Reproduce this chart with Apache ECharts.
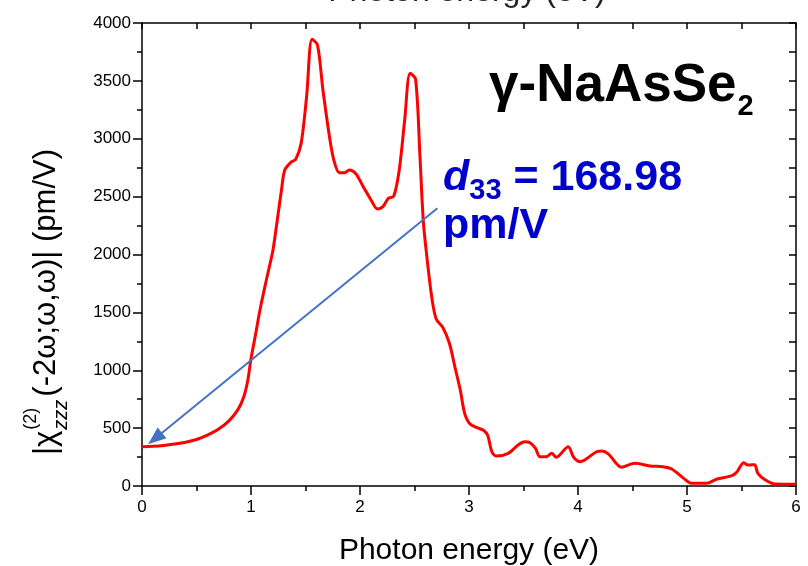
<!DOCTYPE html>
<html>
<head>
<meta charset="utf-8">
<script src="https://cdn.jsdelivr.net/npm/echarts@6/dist/echarts.min.js"></script>
<style>html,body{margin:0;padding:0;background:#fff}#c{width:808px;height:566px}</style>
</head>
<body>
<div id="c"></div>
<script>
// Photon energy (eV)
const energy = [0, 0.1, 0.2, 0.3, 0.4, 0.5, 0.6, 0.7, 0.8, 0.88, 0.93, 0.97, 1.0, 1.04, 1.08, 1.12, 1.16, 1.20, 1.24, 1.28, 1.31, 1.37, 1.41, 1.46, 1.51, 1.56, 1.61, 1.66, 1.72, 1.76, 1.81, 1.86, 1.90, 1.96, 2.03, 2.11, 2.16, 2.21, 2.26, 2.31, 2.36, 2.41, 2.46, 2.51, 2.55, 2.58, 2.61, 2.66, 2.70, 2.76, 2.82, 2.87, 2.92, 2.96, 3.01, 3.09, 3.13, 3.17, 3.21, 3.25, 3.36, 3.45, 3.51, 3.56, 3.61, 3.65, 3.71, 3.76, 3.80, 3.91, 3.96, 4.02, 4.17, 4.22, 4.28, 4.40, 4.52, 4.66, 4.78, 4.86, 4.97, 5.04, 5.18, 5.27, 5.41, 5.46, 5.52, 5.56, 5.62, 5.65, 5.72, 5.81, 6.0];
// |chi(2)_zzz| (pm/V)
const chi = [340, 343, 350, 362, 378, 402, 440, 490, 565, 660, 760, 910, 1100, 1300, 1510, 1690, 1860, 2030, 2290, 2560, 2730, 2800, 2822, 2960, 3363, 3860, 3810, 3421, 3018, 2816, 2707, 2707, 2730, 2700, 2586, 2456, 2393, 2413, 2485, 2505, 2730, 3162, 3565, 3514, 2850, 2300, 2010, 1620, 1440, 1370, 1233, 1031, 829, 628, 536, 498, 484, 441, 296, 259, 282, 354, 383, 374, 325, 253, 253, 282, 248, 340, 248, 210, 296, 302, 276, 162, 196, 173, 167, 147, 66, 23, 23, 58, 89, 124, 201, 181, 184, 110, 52, 17, 15];
// arrow annotation: from text toward the value at low energy
const arrowFrom = [2.71, 2400];
const arrowTo = [0.12, 410];

const FONT = "'Liberation Sans', Arial, sans-serif";
const ctx = document.createElement('canvas').getContext('2d');
function tw(text, font) { ctx.font = font; return ctx.measureText(text).width; }

const chart = echarts.init(document.getElementById('c'), null, {renderer: 'canvas'});

// y-axis label pieces (rotated group)
const fMain = 31, fSup = 18, fSub = 20;
const mainFont = fMain + 'px ' + FONT;
const supFont = fSup + 'px ' + FONT;
const subFont = 'italic ' + fSub + 'px ' + FONT;
const w1 = tw('|χ', mainFont);
const x1 = w1 + 1;
const x2 = x1 + Math.max(tw('(2)', supFont), tw('zzz', subFont)) + 3;
function mid(base, fs) { return base - 0.31 * fs; }

// title pieces
const tFont = 'bold 53px ' + FONT;
const tW = tw('γ-NaAsSe', tFont);
const aFont = 'bold 43px ' + FONT;
const dFont = 'italic bold 43px ' + FONT;
const dW = tw('d', dFont);
const sW = tw('33', 'bold 29px ' + FONT);

const plain = v => String(v);

const option = {
  animation: false,
  grid: {left: 142, right: 12, top: 23, bottom: 80, containLabel: false, outerBoundsMode: 'none'},
  xAxis: [
    {
      type: 'value', min: 0, max: 6, interval: 1, position: 'bottom',
      axisLine: {show: true, onZero: false, lineStyle: {color: '#000', width: 1.5}},
      axisTick: {show: true, length: 9, lineStyle: {color: '#000', width: 1.5}},
      minorTick: {show: true, splitNumber: 2, length: 5, lineStyle: {color: '#000', width: 1.5}},
      splitLine: {show: false},
      axisLabel: {color: '#000', fontSize: 17, fontFamily: FONT, margin: 13, formatter: plain},
      name: 'Photon energy (eV)', nameLocation: 'middle', nameGap: 50,
      nameTextStyle: {color: '#000', fontSize: 30, fontFamily: FONT}
    },
    {
      type: 'value', min: 0, max: 6, interval: 0.5, position: 'top',
      axisLine: {show: true, onZero: false, lineStyle: {color: '#000', width: 1.5}},
      axisTick: {show: true, inside: true, length: 6, lineStyle: {color: '#000', width: 1.5}},
      axisLabel: {show: false}, splitLine: {show: false}
    }
  ],
  yAxis: [
    {
      type: 'value', min: 0, max: 4000, interval: 500, position: 'left',
      axisLine: {show: true, onZero: false, lineStyle: {color: '#000', width: 1.5}},
      axisTick: {show: true, length: 9, lineStyle: {color: '#000', width: 1.5}},
      minorTick: {show: true, splitNumber: 2, length: 5, lineStyle: {color: '#000', width: 1.5}},
      splitLine: {show: false},
      axisLabel: {color: '#000', fontSize: 17, fontFamily: FONT, margin: 11, formatter: plain}
    },
    {
      type: 'value', min: 0, max: 4000, interval: 250, position: 'right',
      axisLine: {show: true, onZero: false, lineStyle: {color: '#000', width: 1.5}},
      axisTick: {show: true, inside: true, length: 7, lineStyle: {color: '#000', width: 1.5}},
      axisLabel: {show: false}, splitLine: {show: false}
    }
  ],
  series: [{
    type: 'line',
    xAxisIndex: 0, yAxisIndex: 0,
    data: energy.map((e, i) => [e, chi[i]]),
    symbol: 'none',
    smooth: 0.3,
    lineStyle: {color: '#FF0000', width: 3},
    markLine: {
      silent: true,
      symbol: ['none', 'triangle'],
      symbolSize: [14, 18],
      label: {show: false},
      lineStyle: {color: '#4472C4', width: 2, type: 'solid'},
      emphasis: {disabled: true},
      data: [[{coord: arrowFrom}, {coord: arrowTo}]]
    }
  }],
  graphic: [
    // cut-off text at the very top
    {type: 'text', x: 467, y: -8, style: {text: 'Photon energy (eV)', font: '32px ' + FONT, fill: '#222', textAlign: 'center', textVerticalAlign: 'middle', align: 'center', verticalAlign: 'middle'}},
    // y axis label
    {
      type: 'group', x: 56, y: 455, rotation: Math.PI / 2,
      children: [
        {type: 'text', x: 0, y: mid(0, fMain), style: {text: '|χ', font: mainFont, fill: '#000', textVerticalAlign: 'middle', verticalAlign: 'middle'}},
        {type: 'text', x: x1, y: mid(-19, fSup), style: {text: '(2)', font: supFont, fill: '#000', textVerticalAlign: 'middle', verticalAlign: 'middle'}},
        {type: 'text', x: x1, y: mid(12, fSub), style: {text: 'zzz', font: subFont, fill: '#000', textVerticalAlign: 'middle', verticalAlign: 'middle'}},
        {type: 'text', x: x2, y: mid(0, fMain), style: {text: '(-2ω;ω,ω)| (pm/V)', font: mainFont, fill: '#000', textVerticalAlign: 'middle', verticalAlign: 'middle'}}
      ]
    },
    // compound name
    {type: 'text', x: 489, y: mid(103, 53), style: {text: 'γ-NaAsSe', font: tFont, fill: '#000', textVerticalAlign: 'middle', verticalAlign: 'middle'}},
    {type: 'text', x: 489 + tW + 1, y: mid(116, 29), style: {text: '2', font: 'bold 29px ' + FONT, fill: '#000', textVerticalAlign: 'middle', verticalAlign: 'middle'}},
    // d33 annotation
    {type: 'text', x: 443, y: mid(191, 43), style: {text: 'd', font: dFont, fill: '#0000CC', textVerticalAlign: 'middle', verticalAlign: 'middle'}},
    {type: 'text', x: 443 + dW, y: mid(200, 29), style: {text: '33', font: 'bold 29px ' + FONT, fill: '#0000CC', textVerticalAlign: 'middle', verticalAlign: 'middle'}},
    {type: 'text', x: 443 + dW + sW, y: mid(191, 43), style: {text: ' = 168.98', font: aFont, fill: '#0000CC', textVerticalAlign: 'middle', verticalAlign: 'middle'}},
    {type: 'text', x: 443, y: mid(239, 43), style: {text: 'pm/V', font: aFont, fill: '#0000CC', textVerticalAlign: 'middle', verticalAlign: 'middle'}}
  ]
};
chart.setOption(option);
</script>
</body>
</html>
